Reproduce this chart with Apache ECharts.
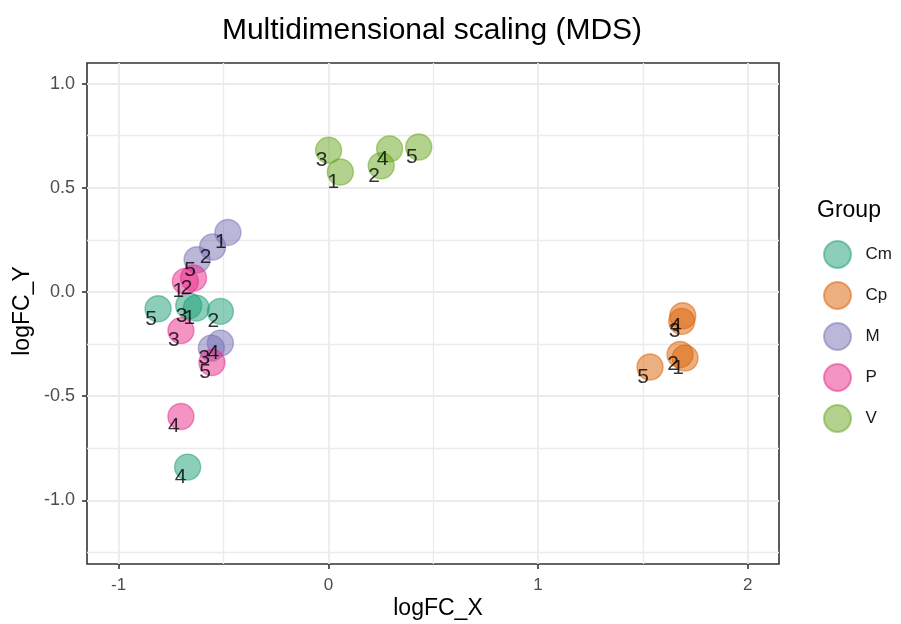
<!DOCTYPE html>
<html>
<head>
<meta charset="utf-8">
<script src="https://cdn.jsdelivr.net/npm/echarts@6/dist/echarts.min.js"></script>
<style>
html,body{margin:0;padding:0;background:#fff;}
#chart{width:901px;height:624px;}
</style>
</head>
<body>
<div id="chart"></div>
<script>
// ---- data ----
var groups = ['Cm', 'Cp', 'M', 'P', 'V'];
var colors = ['#1B9E77', '#D95F02', '#7570B3', '#E7298A', '#66A61E'];
var sampleIds = ['1', '2', '3', '4', '5'];
var cmX = [-0.630, -0.515, -0.666, -0.671, -0.812];
var cmY = [-0.077, -0.093, -0.066, -0.840, -0.080];
var cpX = [1.701, 1.677, 1.685, 1.690, 1.534];
var cpY = [-0.317, -0.300, -0.141, -0.114, -0.360];
var mX = [-0.479, -0.552, -0.558, -0.515, -0.626];
var mY = [0.286, 0.216, -0.269, -0.245, 0.155];
var pX = [-0.682, -0.643, -0.703, -0.703, -0.555];
var pY = [0.051, 0.067, -0.185, -0.597, -0.338];
var vX = [0.057, 0.252, 0.001, 0.292, 0.431];
var vY = [0.576, 0.606, 0.680, 0.687, 0.696];
var xTicks = [-1, 0, 1, 2];
var yTicks = [-1.0, -0.5, 0.0, 0.5, 1.0];
var xs = [cmX, cpX, mX, pX, vX];
var ys = [cmY, cpY, mY, pY, vY];

var FONT = '"Liberation Sans", Arial, Helvetica, sans-serif';

function rgba(hex, a) {
  var r = parseInt(hex.slice(1, 3), 16), g = parseInt(hex.slice(3, 5), 16), b = parseInt(hex.slice(5, 7), 16);
  return 'rgba(' + r + ',' + g + ',' + b + ',' + a + ')';
}

var series = [];
groups.forEach(function (g, gi) {
  var data = xs[gi].map(function (x, i) { return [x, ys[gi][i], sampleIds[i]]; });
  series.push({
    name: g,
    type: 'scatter',
    z: 2,
    symbol: 'circle',
    symbolSize: 26,
    itemStyle: { color: rgba(colors[gi], 0.5), borderColor: rgba(colors[gi], 0.5), borderWidth: 1.4, opacity: 1 },
    emphasis: { disabled: true },
    data: data
  });
});
groups.forEach(function (g, gi) {
  var data = xs[gi].map(function (x, i) { return [x, ys[gi][i], sampleIds[i]]; });
  series.push({
    type: 'scatter',
    z: 5,
    symbolSize: 0,
    silent: true,
    label: {
      show: true, position: 'inside', offset: [-7, 10],
      formatter: function (p) { return p.data[2]; },
      color: '#000', fontSize: 21, fontFamily: FONT
    },
    emphasis: { disabled: true },
    data: data
  });
});

var chart = echarts.init(document.getElementById('chart'), null, { renderer: 'canvas' });
chart.setOption({
  backgroundColor: '#fff',
  animation: false,
  grid: { left: 87, right: 122, top: 63, bottom: 60, show: true, borderColor: '#333', borderWidth: 1.6, backgroundColor: '#fff' },
  xAxis: {
    type: 'value', min: -1.151, max: 2.149, minInterval: 1, maxInterval: 1,
    axisLine: { show: false, onZero: false },
    axisTick: { show: true, length: 5, lineStyle: { color: '#333', width: 1.6 }, customValues: xTicks },
    axisLabel: { customValues: xTicks, margin: 13, color: '#4D4D4D', fontSize: 17, fontFamily: FONT,
      formatter: function (v) { return String(Math.round(v)); } },
    splitLine: { show: true, lineStyle: { color: '#EBEBEB', width: 1.8 } },
    minorTick: { show: false, splitNumber: 2 },
    minorSplitLine: { show: true, lineStyle: { color: '#EBEBEB', width: 1.3 } }
  },
  yAxis: {
    type: 'value', min: -1.305, max: 1.099, minInterval: 0.5, maxInterval: 0.5,
    axisLine: { show: false, onZero: false },
    axisTick: { show: true, length: 5, lineStyle: { color: '#333', width: 1.6 }, customValues: yTicks },
    axisLabel: { customValues: yTicks, margin: 12, color: '#4D4D4D', fontSize: 18, fontFamily: FONT,
      formatter: function (v) { return v.toFixed(1); } },
    splitLine: { show: true, lineStyle: { color: '#EBEBEB', width: 1.8 } },
    minorTick: { show: false, splitNumber: 2 },
    minorSplitLine: { show: true, lineStyle: { color: '#EBEBEB', width: 1.3 } }
  },
  legend: {
    data: groups,
    orient: 'vertical',
    left: 823, top: 240,
    padding: 0,
    itemWidth: 46, itemHeight: 27, itemGap: 12,
    icon: 'circle',
    textStyle: { fontSize: 17, color: '#1A1A1A', fontFamily: FONT },
    selectedMode: false
  },
  graphic: [
    { type: 'text', style: { text: 'Multidimensional scaling (MDS)', x: 432, y: 31, align: 'center', verticalAlign: 'middle', font: '30px ' + FONT, fill: '#000' } },
    { type: 'text', style: { text: 'logFC_X', x: 438, y: 609, align: 'center', verticalAlign: 'middle', font: '23px ' + FONT, fill: '#000' } },
    { type: 'text', x: 23, y: 311, rotation: Math.PI / 2, style: { text: 'logFC_Y', x: 0, y: 0, align: 'center', verticalAlign: 'middle', font: '23px ' + FONT, fill: '#000' } },
    { type: 'text', style: { text: 'Group', x: 817, y: 211, align: 'left', verticalAlign: 'middle', font: '23px ' + FONT, fill: '#000' } }
  ],
  series: series
});
</script>
</body>
</html>
